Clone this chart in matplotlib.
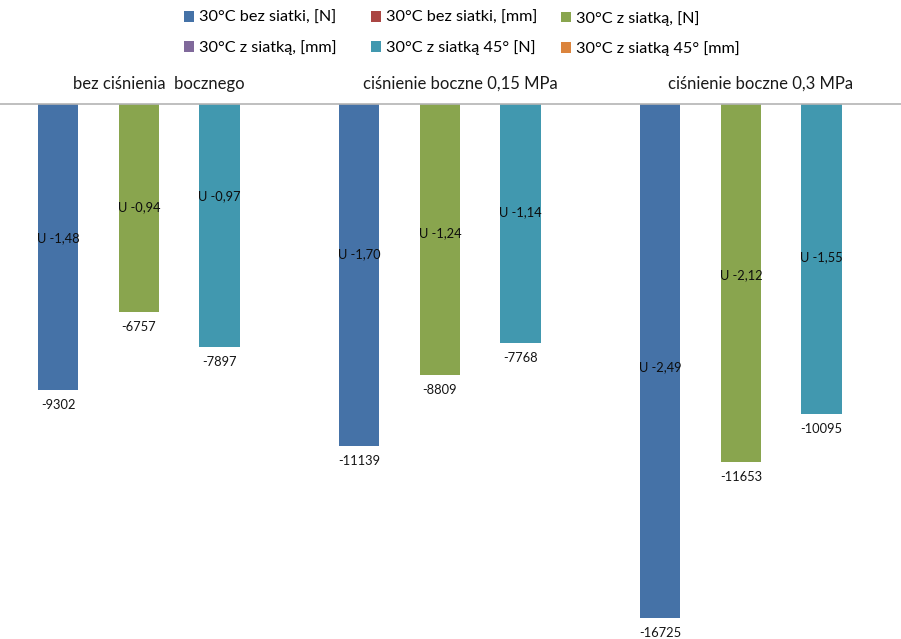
import matplotlib
matplotlib.use("Agg")
import matplotlib.pyplot as plt
from matplotlib.patches import Patch

# Data
categories = ["bez ciśnienia  bocznego", "ciśnienie boczne 0,15 MPa", "ciśnienie boczne 0,3 MPa"]
series_names = [
    "30°C bez siatki, [N]", "30°C bez siatki, [mm]",
    "30°C z siatką, [N]", "30°C z siatką, [mm]",
    "30°C z siatką 45° [N]", "30°C z siatką 45° [mm]",
]
force_bez = [-9302, -11139, -16725]
disp_bez = [-1.48, -1.70, -2.49]
force_z = [-6757, -8809, -11653]
disp_z = [-0.94, -1.24, -2.12]
force_45 = [-7897, -7768, -10095]
disp_45 = [-0.97, -1.14, -1.55]

# Styling / layout
colors = ["#4572A7", "#AA4643", "#89A54E", "#80699B", "#4198AF", "#DB843D"]
FONT = ["Lato", "DejaVu Sans"]
# vertical position of the displacement label inside each force bar (fraction of bar length)
u_label_frac = [
    [0.468, 0.438, 0.512],
    [0.495, 0.477, 0.478],
    [0.379, 0.453, 0.494],
]
# left edge (px) of each legend column
legend_col_px = [179, 366, 556]

plt.rcParams["font.family"] = FONT

W, H = 901, 639
fig = plt.figure(figsize=(W / 100, H / 100), dpi=100)
axis_px = 104
ax = fig.add_axes([0, 0, 1, (H - axis_px) / H])

series = [force_bez, disp_bez, force_z, disp_z, force_45, disp_45]
n_series = len(series)
bar_w = 0.134
xs = list(range(len(categories)))

for k, vals in enumerate(series):
    off = (k - (n_series - 1) / 2) * bar_w
    ax.bar([x + off for x in xs], vals, width=bar_w, color=colors[k],
           label=series_names[k], linewidth=0)

# value labels under the force bars and displacement labels inside them
pairs = [(0, force_bez, disp_bez), (2, force_z, disp_z), (4, force_45, disp_45)]
for j, (k, forces, disps) in enumerate(pairs):
    off = (k - (n_series - 1) / 2) * bar_w
    for i, (f, d) in enumerate(zip(forces, disps)):
        x = xs[i] + off
        ax.annotate(f"{f}", (x, f), xytext=(0, -15), textcoords="offset pixels",
                    ha="center", va="center", fontsize=9.3, color="#141414")
        ax.text(x, f * u_label_frac[j][i], "U " + f"{d:.2f}".replace(".", ","),
                ha="center", va="center", fontsize=9.3, color="#0d0d0d")

for i, c in enumerate(categories):
    ax.annotate(c, (xs[i], 0), xytext=(0, 20), textcoords="offset pixels",
                ha="center", va="center", fontsize=12, color="#1a1a1a",
                annotation_clip=False)

ax.set_xlim(-0.528, 2.465)
ax.set_ylim(-17421, 0)
for s in ["left", "right", "bottom"]:
    ax.spines[s].set_visible(False)
ax.spines["top"].set_color("#b4b4b4")
ax.spines["top"].set_linewidth(1.2)
ax.set_xticks([])
ax.set_yticks([])

# legend laid out in rows of three: one two-entry legend per column
rows = [[0, 1, 2], [3, 4, 5]]
for c, px in enumerate(legend_col_px):
    idx = [rows[0][c], rows[1][c]]
    handles = [Patch(facecolor=colors[k], edgecolor="none") for k in idx]
    labels = [series_names[k] for k in idx]
    fig.legend(handles, labels, ncol=1, loc="upper left",
               bbox_to_anchor=(px / W, 1 - 6 / H), frameon=False,
               fontsize=11.7, handlelength=0.63, handleheight=0.63,
               handletextpad=0.3, labelspacing=0.95,
               borderaxespad=0, borderpad=0.3)

fig.savefig("out.png", dpi=100, facecolor="white")
